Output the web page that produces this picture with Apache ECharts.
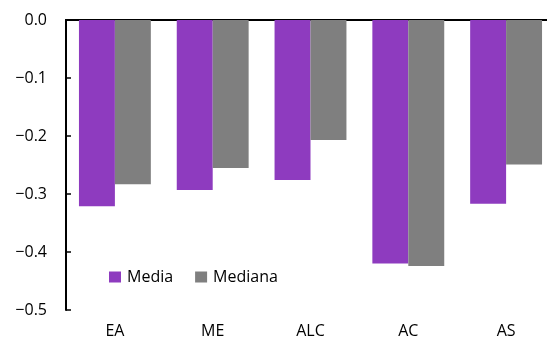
<!DOCTYPE html>
<html>
<head>
<meta charset="utf-8">
<script src="https://cdn.jsdelivr.net/npm/echarts@6/dist/echarts.min.js"></script>
<style>
  html, body { margin: 0; padding: 0; background: #fff; overflow: hidden; width: 547px; height: 345px; }
  /* the canvas is wider than the page: the plot area runs past the right edge */
  #chart { width: 560px; height: 345px; }
</style>
</head>
<body>
<div id="chart"></div>
<script>
// Regions and their mean / median values
const categories = ['EA', 'ME', 'ALC', 'AC', 'AS'];
const mediaValues = [-0.321, -0.293, -0.276, -0.420, -0.317];
const medianaValues = [-0.283, -0.255, -0.207, -0.424, -0.249];
const seriesNames = ['Media', 'Mediana'];

const FONT = '"Open Sans", "Noto Sans", sans-serif';
const fmt = v => (v < 0 ? '\u2212' : '') + Math.abs(v).toFixed(1);

const chart = echarts.init(document.getElementById('chart'), null, { renderer: 'canvas' });
chart.setOption({
  animation: false,
  grid: { left: 66, width: 489, top: 20, height: 290, containLabel: false },
  legend: {
    data: seriesNames,
    left: 104, top: 264,
    icon: 'rect', itemWidth: 12, itemHeight: 11, itemGap: 22,
    textStyle: { fontFamily: FONT, fontSize: 16, color: '#000', padding: [0, 0, 0, 1] }
  },
  xAxis: [
    {
      type: 'category', data: categories, position: 'bottom',
      axisLine: { show: true, lineStyle: { color: '#000', width: 2 } },
      axisTick: { show: false },
      axisLabel: { fontFamily: FONT, fontSize: 16, color: '#000', margin: 13 }
    },
    {
      type: 'category', data: categories, position: 'top',
      axisLine: { show: true, lineStyle: { color: '#000', width: 2 } },
      axisTick: { show: false }, axisLabel: { show: false }
    }
  ],
  yAxis: {
    type: 'value', min: -0.5, max: 0, interval: 0.1,
    axisLine: { show: true, lineStyle: { color: '#000', width: 2 } },
    axisTick: { show: true, inside: true, length: 5, lineStyle: { color: '#000', width: 1.5 } },
    splitLine: { show: false },
    axisLabel: { fontFamily: FONT, fontSize: 16, color: '#000', margin: 19, formatter: fmt }
  },
  series: [
    {
      name: seriesNames[0], type: 'bar', data: mediaValues,
      barGap: '0%', barCategoryGap: '26.5%',
      itemStyle: { color: '#8E3BBF' }
    },
    {
      name: seriesNames[1], type: 'bar', data: medianaValues,
      barGap: '0%', barCategoryGap: '26.5%',
      itemStyle: { color: '#7F7F7F' }
    }
  ]
});
</script>
</body>
</html>
